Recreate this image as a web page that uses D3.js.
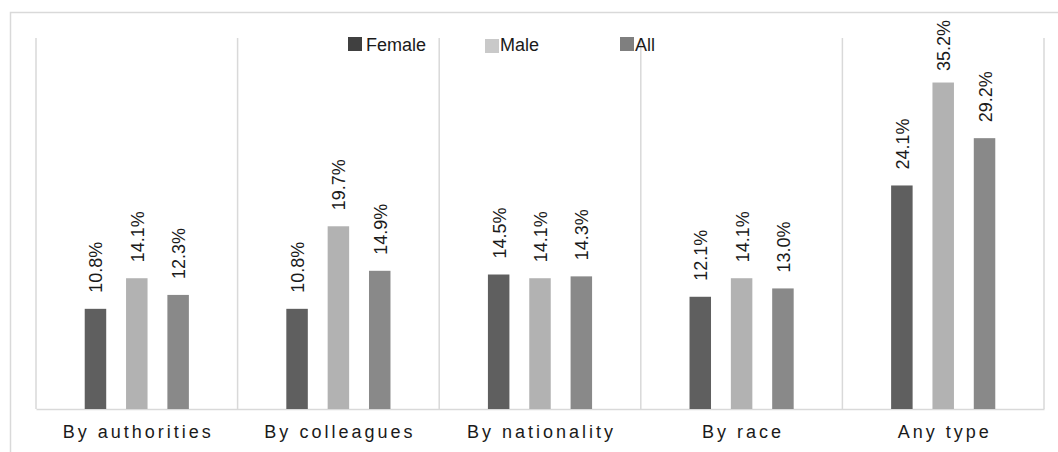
<!DOCTYPE html>
<html>
<head>
<meta charset="utf-8">
<script src="https://cdn.jsdelivr.net/npm/d3@7"></script>
<style>
  html, body { margin: 0; padding: 0; background: #fff; }
  svg { display: block; font-family: "Liberation Sans", Arial, sans-serif; }
</style>
</head>
<body>
<svg id="chart" width="1058" height="452"></svg>
<script>
// Harassment / discrimination rates by type and sex
const categories = ["By authorities", "By colleagues", "By nationality", "By race", "Any type"];
const seriesNames = ["Female", "Male", "All"];
const female = [10.8, 10.8, 14.5, 12.1, 24.1];
const male   = [14.1, 19.7, 14.1, 14.1, 35.2];
const all    = [12.3, 14.9, 14.3, 13.0, 29.2];

const barColors    = { Female: "#5f5f5f", Male: "#b2b2b2", All: "#898989" };
const legendColors = { Female: "#404040", Male: "#c9c9c9", All: "#7f7f7f" };

const valuesBySeries = { Female: female, Male: male, All: all };

const svg = d3.select("#chart");
const gridColor = "#d9d9d9";

// outer chart frame
svg.append("rect")
  .attr("x", 10.5).attr("y", 12.5)
  .attr("width", 1080).attr("height", 480)
  .attr("fill", "none").attr("stroke", gridColor).attr("stroke-width", 1.5);

const plot = { left: 36, right: 1044, top: 38, bottom: 409 };

const x0 = d3.scaleBand().domain(categories).range([plot.left, plot.right]).padding(0);
const x1 = d3.scaleBand().domain(seriesNames).range([-62, 62]).paddingInner(0.48).paddingOuter(0.24);
const y = d3.scaleLinear().domain([0, 40]).range([plot.bottom, plot.top]);

// vertical separators between categories
const bounds = categories.map(c => x0(c)).concat([plot.right]);
svg.append("g").selectAll("line").data(bounds).join("line")
  .attr("x1", d => d).attr("x2", d => d)
  .attr("y1", plot.top).attr("y2", plot.bottom)
  .attr("stroke", gridColor).attr("stroke-width", 1.5);

// category axis
const xAxis = svg.append("g")
  .attr("transform", `translate(0,${plot.bottom})`)
  .call(d3.axisBottom(x0).tickSize(0).tickPadding(0));
xAxis.select(".domain").attr("stroke", gridColor).attr("stroke-width", 1.5);
const letterSpacing = 3;
xAxis.selectAll(".tick text")
  .attr("y", 29).attr("dy", 0)
  .attr("dx", letterSpacing / 2)
  .attr("fill", "#1a1a1a")
  .style("font-size", "18px")
  .style("letter-spacing", letterSpacing + "px")
  .style("font-family", "'Liberation Sans', Arial, sans-serif");

// bars
const rows = categories.map((c, i) => ({
  cat: c,
  items: seriesNames.map(s => ({ series: s, value: valuesBySeries[s][i] }))
}));

const groups = svg.append("g").selectAll("g").data(rows).join("g")
  .attr("transform", d => `translate(${x0(d.cat) + x0.bandwidth() / 2},0)`);

groups.selectAll("rect").data(d => d.items).join("rect")
  .attr("x", d => x1(d.series))
  .attr("width", x1.bandwidth())
  .attr("y", d => y(d.value))
  .attr("height", d => y(0) - y(d.value))
  .attr("fill", d => barColors[d.series]);

// rotated value labels, kept inside the chart frame
const labelGap = 16, labelTopLimit = 20;
groups.selectAll("text").data(d => d.items).join("text")
  .attr("text-anchor", "start")
  .attr("fill", "#1a1a1a")
  .style("font-size", "18px")
  .text(d => d.value.toFixed(1) + "%")
  .attr("transform", function(d) {
    const len = this.getComputedTextLength();
    const start = Math.max(y(d.value) - labelGap, labelTopLimit + len);
    return `translate(${x1(d.series) + x1.bandwidth() / 2 + 7},${start}) rotate(-90)`;
  });

// legend
const legendX = { Female: 348, Male: 485, All: 620 };
const legendY = { Female: 37, Male: 39, All: 37 };
const legend = svg.append("g").selectAll("g").data(seriesNames).join("g");
legend.append("rect")
  .attr("x", d => legendX[d]).attr("y", d => legendY[d])
  .attr("width", 14).attr("height", 14)
  .attr("fill", d => legendColors[d]);
legend.append("text")
  .attr("x", d => legendX[d] + (d === "Female" ? 18 : 15))
  .attr("y", 51)
  .attr("fill", "#1a1a1a")
  .style("font-size", "18px")
  .text(d => d);
</script>
</body>
</html>
